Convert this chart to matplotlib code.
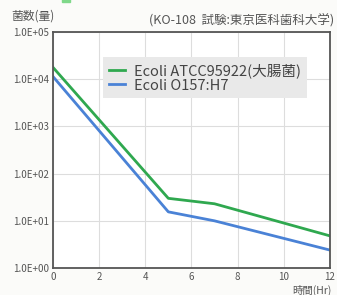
import matplotlib
matplotlib.use('Agg')
import matplotlib.pyplot as plt

plt.rcParams['font.family'] = ['Noto Sans CJK JP', 'DejaVu Sans']

# data
hours = [0, 5, 7, 12]
ecoli_atcc = [18000, 30, 23, 4.8]
ecoli_o157 = [11500, 15.5, 10, 2.4]
ytick_vals = [1, 10, 100, 1000, 10000, 100000]
ytick_labels = ['1.0E+00', '1.0E+01', '1.0E+02', '1.0E+03', '1.0E+04', '1.0E+05']
xtick_vals = [0, 2, 4, 6, 8, 10, 12]

fig = plt.figure(figsize=(3.37, 2.95), dpi=100)
fig.patch.set_facecolor('#fbfbf9')
ax = fig.add_axes([0.157, 0.0915, 0.822, 0.7995])
ax.set_facecolor('white')

ax.plot(hours, ecoli_atcc, color='#2fa84f', lw=2.0, label='Ecoli ATCC95922(大腸菌)')
ax.plot(hours, ecoli_o157, color='#4a82d6', lw=2.0, label='Ecoli O157:H7')

ax.set_yscale('log')
ax.set_ylim(1, 100000)
ax.set_xlim(0, 12)
ax.set_yticks(ytick_vals)
ax.set_yticklabels(ytick_labels)
ax.minorticks_off()
ax.set_xticks(xtick_vals)
ax.tick_params(length=0, labelsize=7, colors='#555555', pad=3)
ax.grid(True, color='#dddddd', lw=0.8)
for s in ax.spines.values():
    s.set_color('#555555')
    s.set_linewidth(1.3)

leg = ax.legend(loc='upper left', bbox_to_anchor=(0.155, 0.925), fontsize=10.5,
                frameon=True, fancybox=False, handlelength=1.1, handletextpad=0.6,
                borderpad=0.4, labelspacing=0.05)
leg.get_frame().set_facecolor('#e9e9e9')
leg.get_frame().set_edgecolor('none')
leg.get_frame().set_alpha(1)
for t in leg.get_texts():
    t.set_color('#444444')

fig.text(0.035, 0.945, '菌数(量)', fontsize=8.5, color='#555555', va='center')
fig.text(0.99, 0.93, '(KO-108  試験:東京医科歯科大学)', fontsize=9,
         color='#555555', va='center', ha='right')
fig.text(0.985, -0.005, '時間(Hr)', fontsize=7.5, color='#555555', va='bottom', ha='right')
fig.patches.append(plt.Rectangle((0.184, 0.992), 0.024, 0.02, transform=fig.transFigure,
                                 color='#7fd88a', figure=fig))

fig.savefig('out.png', dpi=100, facecolor=fig.get_facecolor())
